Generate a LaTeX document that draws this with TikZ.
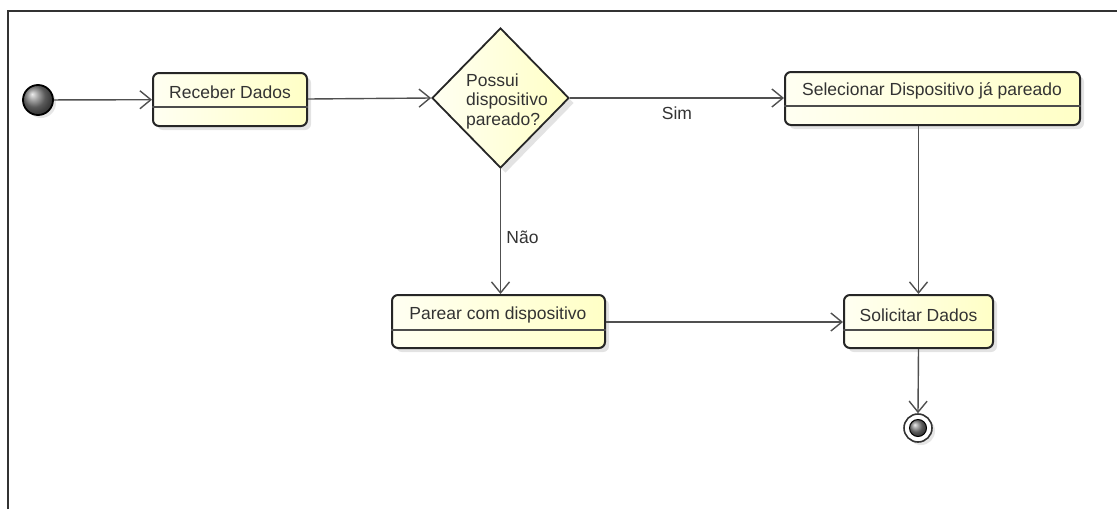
\documentclass[tikz,border=0pt]{standalone}
\usepackage{fontspec}
\setmainfont{Liberation Sans}
\usetikzlibrary{arrows.meta,shapes.geometric,shadows}
\definecolor{yA}{HTML}{FFFFF2}
\definecolor{yB}{HTML}{FFFFC6}
\definecolor{txt}{HTML}{333333}
\definecolor{edgec}{HTML}{505050}
\tikzset{
  actbox/.style={draw=black!85, line width=2pt, rounded corners=6pt, left color=yA, right color=yB,
    inner sep=0pt, drop shadow={opacity=0.22, shadow xshift=4pt, shadow yshift=-4pt}},
  decbox/.style={diamond, draw=black!85, line width=1.8pt, left color=yA, right color=yB,
    inner sep=0pt, drop shadow={opacity=0.22, shadow xshift=5pt, shadow yshift=-5pt}},
  lbl/.style={text=txt, font=\fontsize{17.5}{21}\selectfont, inner sep=1pt},
  divline/.style={draw=black!70, line width=1.3pt},
  flow/.style={draw=edgec, line width=1.4pt, -{Straight Barb[length=11pt,width=18pt,line width=1.4pt]}},
  frameline/.style={draw=black!80, line width=2pt},
}
\begin{document}
\begin{tikzpicture}[x=1pt,y=-1pt]
\useasboundingbox (0,0) rectangle (1117,509);
\draw[frameline] (8,509) -- (8,11) -- (1117,11);

% initial
\node[circle, draw=black, line width=1.8pt, minimum size=30pt, inner sep=0pt, shading=ball, ball color=black!50,
  drop shadow={opacity=0.2, shadow xshift=3pt, shadow yshift=-3pt}] (start) at (38,100) {};

% Receber Dados
\node[actbox, minimum width=154pt, minimum height=53pt] (recv) at (230,99.5) {};
\draw[divline] (recv.west |- 0,107) -- (recv.east |- 0,107);
\node[lbl] (recvT) at (230,92) {Receber Dados};

% decision
\node[decbox, minimum width=137pt, minimum height=140pt] (dec) at (500.5,98) {};
\node[lbl, align=left, font=\fontsize{17.5}{19.5}\selectfont] (decT) at (507,101) {Possui\\dispositivo\\pareado?};

% Selecionar
\node[actbox, minimum width=295pt, minimum height=53pt] (sel) at (932.5,98.5) {};
\draw[divline] (sel.west |- 0,106) -- (sel.east |- 0,106);
\node[lbl] (selT) at (932,91) {Selecionar Dispositivo já pareado};

% Parear
\node[actbox, minimum width=213pt, minimum height=53pt] (par) at (498.5,321.5) {};
\draw[divline] (par.west |- 0,330) -- (par.east |- 0,330);
\node[lbl] (parT) at (498,315) {Parear com dispositivo};

% Solicitar
\node[actbox, minimum width=149pt, minimum height=53pt] (sol) at (918.5,321.5) {};
\draw[divline] (sol.west |- 0,330) -- (sol.east |- 0,330);
\node[lbl] (solT) at (918.5,315) {Solicitar Dados};

% final
\node[circle, draw=black!80, line width=1.6pt, minimum size=28pt, inner sep=0pt, fill=white,
  drop shadow={opacity=0.2, shadow xshift=3pt, shadow yshift=-3pt}] (fin) at (918,428) {};
\node[circle, draw=black, line width=1pt, minimum size=17pt, inner sep=0pt, shading=ball, ball color=black!50] (finIn) at (fin.center) {};

% connectors
\draw[flow] (start) -- (recv);
\draw[flow] (recv.east |- 0,99) -- (dec.west);
\draw[flow] (dec.east) -- (sel.west |- dec.east) node[lbl, pos=0.5, yshift=-15pt] (sim) {Sim};
\draw[flow] (dec.south) -- (dec.south |- par.north) node[lbl, pos=0.55, xshift=22pt] (nao) {Não};
\draw[flow] (sol.north |- sel.south) -- (sol.north);
\draw[flow] (par.east |- 0,322) -- (sol.west |- 0,322);
\draw[flow] (sol.south) -- (fin.north);
\end{tikzpicture}
\end{document}
